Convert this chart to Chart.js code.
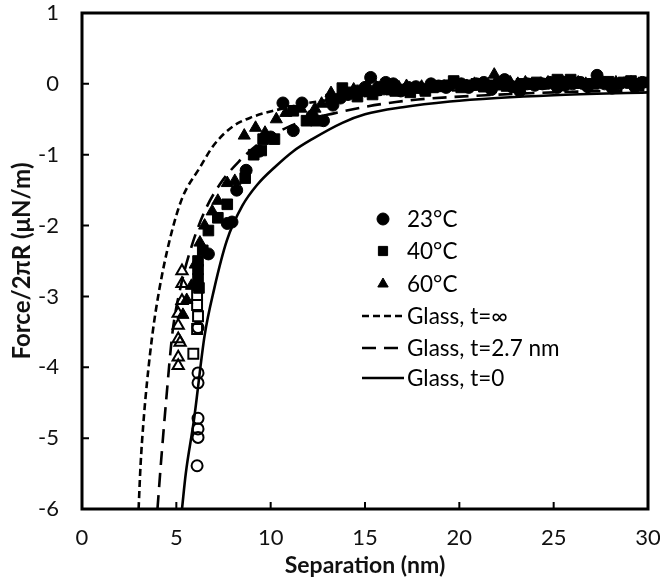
<!DOCTYPE html>
<html><head><meta charset="utf-8">
<script src="https://cdn.jsdelivr.net/npm/chart.js@4.4.0/dist/chart.umd.min.js"></script>
<style>html,body{margin:0;padding:0;background:#fff;}</style>
</head><body>
<canvas id="c" width="660" height="582" style="width:660px;height:582px;display:block"></canvas>
<script>
// ---- data ----
const xTicks = [0, 5, 10, 15, 20, 25, 30];
const yTicks = [-6, -5, -4, -3, -2, -1, 0, 1];

// 23°C (filled circles)
const sep23 = [6.7, 7.7, 7.95, 8.2, 8.7, 9.4, 10.0, 10.65, 11.2, 11.66, 12.2, 12.8,
  13.3, 13.7, 14.1, 14.6, 15.0, 15.3, 15.7, 16.1, 16.5, 16.9, 17.3, 17.7, 18.1, 18.5, 18.9, 19.3, 19.7, 20.1, 20.5, 20.9, 21.3, 21.7, 22.1, 22.4, 22.8, 23.2, 23.6, 24.0, 24.4, 24.8, 25.2, 25.6, 26.0, 26.4, 26.8, 27.3, 27.7, 28.1, 28.5, 28.9, 29.3, 29.7];
const force23 = [-2.4, -1.97, -1.95, -1.5, -1.22, -0.95, -0.75, -0.27, -0.66, -0.27, -0.45, -0.52,
  -0.3, -0.2, -0.15, -0.1, -0.05, 0.09, -0.05, 0.02, 0.0, -0.1, -0.05, -0.04, -0.08, 0.0, -0.03, -0.05, 0.02, 0.0, -0.05, 0.0, 0.02, -0.08, 0.0, 0.06, -0.04, -0.1, 0.0, -0.02, 0.0, 0.02, -0.05, -0.02, 0.0, 0.02, -0.04, 0.12, 0.0, -0.06, 0.0, 0.02, -0.04, 0.02];
// 23°C (open circles)
const sep23open = [6.15, 6.15, 6.15, 6.15, 6.15, 6.15, 6.1];
const force23open = [-3.44, -4.08, -4.22, -4.72, -4.87, -4.99, -5.39];

// 40°C (filled squares)
const sep40 = [6.15, 6.15, 6.15, 6.2, 6.4, 6.7, 7.2, 7.7, 8.65, 9.1, 9.5, 9.6, 10.2, 11.2, 11.9, 12.4,
  13.2, 13.8, 14.2, 14.6, 15.0, 15.4, 15.8, 16.2, 16.6, 17.0, 17.4, 17.8, 18.2, 18.6, 19.0, 19.4, 19.7, 20.1, 20.5, 20.9, 21.3, 21.7, 22.1, 22.5, 22.9, 23.3, 23.7, 24.1, 24.5, 24.9, 25.2, 25.6, 25.9, 26.3, 26.7, 27.1, 27.5, 27.9, 28.3, 28.7, 29.1, 29.5, 29.85];
const force40 = [-2.5, -2.62, -2.75, -2.88, -2.35, -2.07, -1.89, -1.7, -1.33, -1.0, -0.94, -0.78, -0.78, -0.38, -0.52, -0.52,
  -0.22, -0.06, -0.12, -0.18, -0.1, -0.15, -0.08, -0.05, -0.1, -0.08, -0.12, -0.06, -0.1, -0.05, -0.03, -0.02, 0.04, -0.05, -0.02, 0.0, -0.04, -0.02, 0.0, -0.03, -0.04, 0.0, 0.0, 0.02, 0.0, 0.02, 0.06, 0.03, 0.06, 0.02, 0.0, 0.0, 0.02, 0.03, 0.0, 0.02, 0.04, 0.0, 0.02];
// 40°C (open squares)
const sep40open = [6.1, 6.1, 6.15, 6.1, 5.9];
const force40open = [-2.98, -3.12, -3.28, -3.46, -3.81];

// 60°C (filled triangles)
const sep60 = [5.35, 5.55, 5.8, 6.0, 6.25, 6.5, 6.9, 7.2, 7.7, 8.1, 8.6, 9.2, 9.7, 10.3, 10.8, 11.6, 12.35, 12.7,
  13.2, 13.6, 14.0, 14.4, 14.8, 15.2, 15.6, 16.0, 16.4, 16.8, 17.2, 17.6, 18.0, 18.4, 18.8, 19.2, 19.6, 20.0, 20.4, 20.8, 21.2, 21.85, 22.3, 22.7, 23.1, 23.5, 23.9, 24.3, 24.7, 25.1, 25.5, 25.9, 26.3, 26.7, 27.1, 27.5, 27.9, 28.3, 28.7, 29.1, 29.5];
const force60 = [-3.26, -3.05, -2.85, -2.55, -2.24, -2.0, -1.8, -1.65, -1.4, -1.37, -0.73, -0.62, -0.69, -0.5, -0.41, -0.35, -0.35, -0.28,
  -0.13, -0.2, -0.12, -0.08, -0.12, -0.06, -0.05, -0.08, -0.1, -0.05, -0.03, -0.06, -0.04, -0.02, -0.05, -0.04, 0.0, -0.02, -0.03, 0.0, 0.0, 0.13, 0.0, 0.02, 0.0, 0.02, -0.02, 0.0, 0.02, 0.0, 0.02, 0.0, 0.02, 0.0, 0.0, 0.02, 0.0, 0.02, 0.0, 0.02, 0.0];
// 60°C (open triangles)
const sep60open = [5.3, 5.3, 5.3, 5.1, 5.1, 5.1, 5.2, 5.1, 5.1];
const force60open = [-2.64, -2.82, -3.06, -3.24, -3.41, -3.6, -3.65, -3.86, -3.98];

// Glass, t=∞ (short dash)
const sepInf = [3.0, 3.1, 3.25, 3.45, 3.75, 4.1, 4.65, 5.3, 6.25, 7.0, 8.0, 9.0, 10.3, 12, 14, 17, 20, 25, 30];
const forceInf = [-6, -5.4, -4.8, -4.2, -3.5, -2.9, -2.2, -1.62, -1.18, -0.86, -0.6, -0.47, -0.37, -0.27, -0.2, -0.13, -0.09, -0.06, -0.04];
// Glass, t=2.7 nm (long dash)
const sep27 = [4.0, 4.2, 4.45, 4.8, 5.2, 5.8, 6.5, 7.3, 8.3, 9.5, 11.0, 12.3, 13.3, 14.7, 16.0, 17.8, 20, 25, 30];
const force27 = [-6, -5.3, -4.5, -3.5, -2.9, -2.3, -1.8, -1.42, -1.1, -0.82, -0.6, -0.48, -0.42, -0.34, -0.28, -0.22, -0.18, -0.12, -0.09];
// Glass, t=0 (solid)
const sep0 = [5.3, 5.5, 5.93, 6.5, 7.0, 7.68, 8.5, 9.3, 10.2, 11.2, 12.2, 13.8, 15, 17, 19.5, 22, 25, 30];
const force0 = [-6, -5.5, -4.75, -3.55, -2.9, -2.21, -1.72, -1.42, -1.18, -0.95, -0.78, -0.55, -0.43, -0.33, -0.25, -0.2, -0.16, -0.12];

const legendLabels = ['23°C', '40°C', '60°C', 'Glass, t=∞', 'Glass, t=2.7 nm', 'Glass, t=0'];

// ---- build ----
const pts = (xs, ys) => xs.map((x, i) => ({x, y: ys[i]}));
const FONT = 'Lato, "Open Sans", "DejaVu Sans", sans-serif';

function marker(xs, ys, style, r, open) {
  return {
    type: 'scatter', data: pts(xs, ys), pointStyle: style, pointRadius: r, pointHoverRadius: r,
    backgroundColor: open ? 'rgba(0,0,0,0)' : '#000', borderColor: '#000', borderWidth: open ? 2 : 1
  };
}
function curve(xs, ys, dash) {
  return {
    type: 'line', data: pts(xs, ys), showLine: true, pointRadius: 0, borderColor: '#000',
    borderWidth: 2.6, borderDash: dash, fill: false, cubicInterpolationMode: 'monotone'
  };
}

const datasets = [
  marker(sep23, force23, 'circle', 6, false),
  marker(sep40, force40, 'rect', 7.5, false),
  marker(sep60, force60, 'triangle', 7, false),
  curve(sepInf, forceInf, [7, 4]),
  curve(sep27, force27, [14, 8]),
  curve(sep0, force0, []),
  marker(sep23open, force23open, 'circle', 5.5, true),
  marker(sep40open, force40open, 'rect', 7, true),
  marker(sep60open, force60open, 'triangle', 6.5, true)
];

const framePlugin = {
  id: 'frame',
  afterDatasetsDraw(chart) {
    const {ctx, chartArea: a, scales: {x, y}} = chart;
    ctx.save();
    ctx.strokeStyle = '#000';
    ctx.lineWidth = 3;
    ctx.strokeRect(a.left, a.top, a.right - a.left, a.bottom - a.top);
    ctx.lineWidth = 2;
    ctx.beginPath();
    xTicks.forEach(v => { const p = x.getPixelForValue(v); ctx.moveTo(p, a.bottom); ctx.lineTo(p, a.bottom - 7); });
    yTicks.forEach(v => { const p = y.getPixelForValue(v); ctx.moveTo(a.left, p); ctx.lineTo(a.left + 7, p); });
    ctx.stroke();
    ctx.restore();
  }
};

const legendPlugin = {
  id: 'innerLegend',
  afterDraw(chart) {
    const ctx = chart.ctx;
    const rows = [219, 251, 284, 316, 348, 378];
    const styles = ['circle', 'rect', 'triangle'];
    ctx.save();
    ctx.fillStyle = '#000'; ctx.strokeStyle = '#000';
    for (let i = 0; i < 3; i++) {
      Chart.helpers.drawPoint(ctx, {pointStyle: styles[i], radius: i === 1 ? 6.5 : 6, borderWidth: 1}, 383, rows[i]);
    }
    ctx.lineWidth = 2.6;
    const dashes = [[7, 4], [14, 8], []];
    for (let j = 0; j < 3; j++) {
      ctx.setLineDash(dashes[j]);
      ctx.beginPath(); ctx.moveTo(362, rows[3 + j]); ctx.lineTo(404, rows[3 + j]); ctx.stroke();
    }
    ctx.setLineDash([]);
    ctx.font = '22.5px ' + FONT;
    ctx.textBaseline = 'middle'; ctx.textAlign = 'left';
    legendLabels.forEach((t, i) => ctx.fillText(t, 407, rows[i] + 1));
    ctx.restore();
  }
};

new Chart(document.getElementById('c'), {
  type: 'scatter',
  data: {datasets},
  options: {
    responsive: false, animation: false, devicePixelRatio: 1,
    layout: {padding: {top: 13, right: 12, left: 0, bottom: 0}},
    plugins: {legend: {display: false}, tooltip: {enabled: false}},
    scales: {
      x: {
        type: 'linear', min: 0, max: 30,
        afterFit: s => { s.height = 73; s.paddingLeft = 0; s.paddingRight = 0; },
        afterBuildTicks: s => { s.ticks = xTicks.map(v => ({value: v})); },
        ticks: {color: '#111', font: {family: FONT, size: 22}, padding: 8},
        grid: {display: false}, border: {display: false},
        title: {display: true, text: 'Separation (nm)', color: '#111', font: {family: FONT, size: 23, weight: 'bold', lineHeight: 1.2}, padding: {top: 0, bottom: 3}}
      },
      y: {
        type: 'linear', min: -6, max: 1,
        afterFit: s => { s.width = 82; s.paddingTop = 0; s.paddingBottom = 0; },
        afterBuildTicks: s => { s.ticks = yTicks.map(v => ({value: v})); },
        ticks: {color: '#111', font: {family: FONT, size: 22}, padding: 15},
        grid: {display: false}, border: {display: false},
        title: {display: true, text: 'Force/2πR (μN/m)', color: '#111', font: {family: FONT, size: 24, weight: 'bold', lineHeight: 1.2}, padding: {top: 8, bottom: 0}}
      }
    }
  },
  plugins: [framePlugin, legendPlugin]
});
</script>
</body></html>
